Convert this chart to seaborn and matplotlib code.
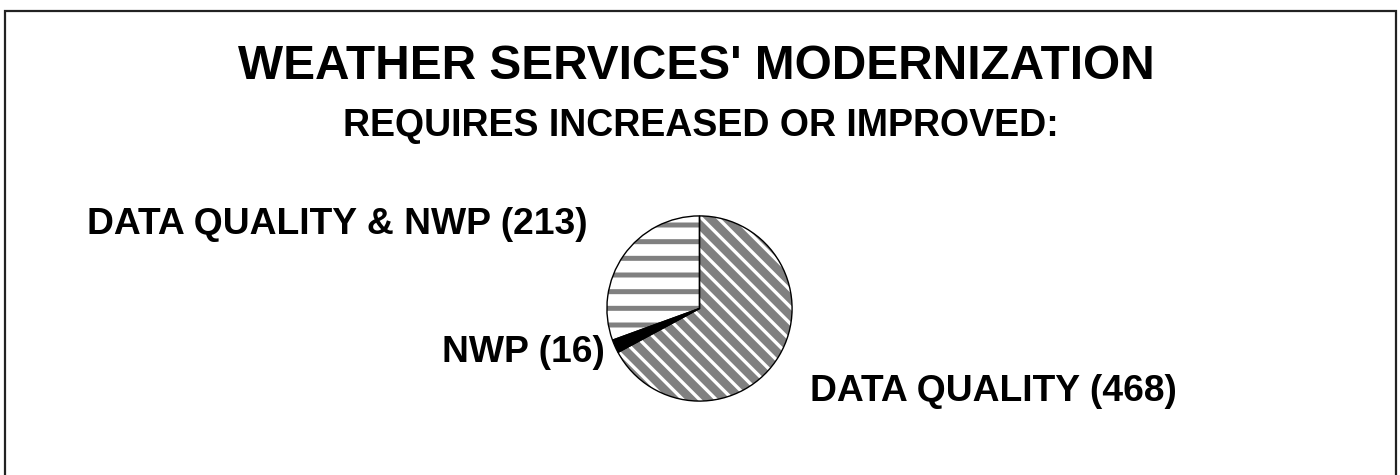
import matplotlib
matplotlib.use("Agg")
import matplotlib.pyplot as plt
import matplotlib.patches as mpatches
import seaborn as sns

categories = ["DATA QUALITY", "NWP", "DATA QUALITY & NWP"]
values = [468, 16, 213]
title = "WEATHER SERVICES' MODERNIZATION"
subtitle = "REQUIRES INCREASED OR IMPROVED:"

sns.set_theme(style="white")
plt.rcParams["font.family"] = ["Liberation Sans", "DejaVu Sans"]

W, H = 1400, 475
fig = plt.figure(figsize=(14, 4.75), dpi=100)
fig.patch.set_facecolor("white")

def fx(px):
    return px / W

def fy(py):
    return (H - py) / H

# border frame
fig.add_artist(mpatches.Rectangle((fx(5), fy(490)), fx(1396) - fx(5), fy(11) - fy(490),
                                  transform=fig.transFigure, fill=False,
                                  edgecolor="#222222", linewidth=1.6))

# pie axes
cx, cy, r = 699.5, 308.5, 93.5
ax = fig.add_axes([fx(cx - r), fy(cy + r), 2 * r / W, 2 * r / H])
ax.set_axis_off()

common = dict(startangle=90, counterclock=False, radius=1)

# base fill
w1, _ = ax.pie(values, colors=["#808080", "black", "white"],
               wedgeprops=dict(linewidth=0), **common)

# diagonal white hatch on DATA QUALITY
with plt.rc_context({"hatch.linewidth": 2.4}):
    w2, _ = ax.pie(values, wedgeprops=dict(fill=False, linewidth=0), **common)
for i, w in enumerate(w2):
    if i == 0:
        w.set_edgecolor("white")
        w.set_hatch("\\\\")
        w.set_linewidth(0)
    else:
        w.set_visible(False)

# horizontal gray stripes on DATA QUALITY & NWP
with plt.rc_context({"hatch.linewidth": 3.6}):
    w3, _ = ax.pie(values, wedgeprops=dict(fill=False, linewidth=0), **common)
for i, w in enumerate(w3):
    if i == 2:
        w.set_edgecolor("#808080")
        w.set_hatch("-")
        w.set_linewidth(0)
    else:
        w.set_visible(False)

# outline
ax.pie(values, wedgeprops=dict(fill=False, edgecolor="black", linewidth=1.0), **common)
ax.set_xlim(-1.01, 1.01)
ax.set_ylim(-1.01, 1.01)

# titles
fig.text(fx(696), fy(79), title, ha="center", va="baseline",
         fontsize=34.4, fontweight="bold", color="black")
fig.text(fx(701), fy(136), subtitle, ha="center", va="baseline",
         fontsize=27, fontweight="bold", color="black")

# slice labels
label_pos = [(810, 401), (442, 362), (87, 234)]
for cat, val, (lx, ly) in zip(categories, values, label_pos):
    fig.text(fx(lx), fy(ly), f"{cat} ({val})", ha="left", va="baseline",
             fontsize=26.8, fontweight="bold", color="black")

fig.savefig("out.png", dpi=100, facecolor="white")
